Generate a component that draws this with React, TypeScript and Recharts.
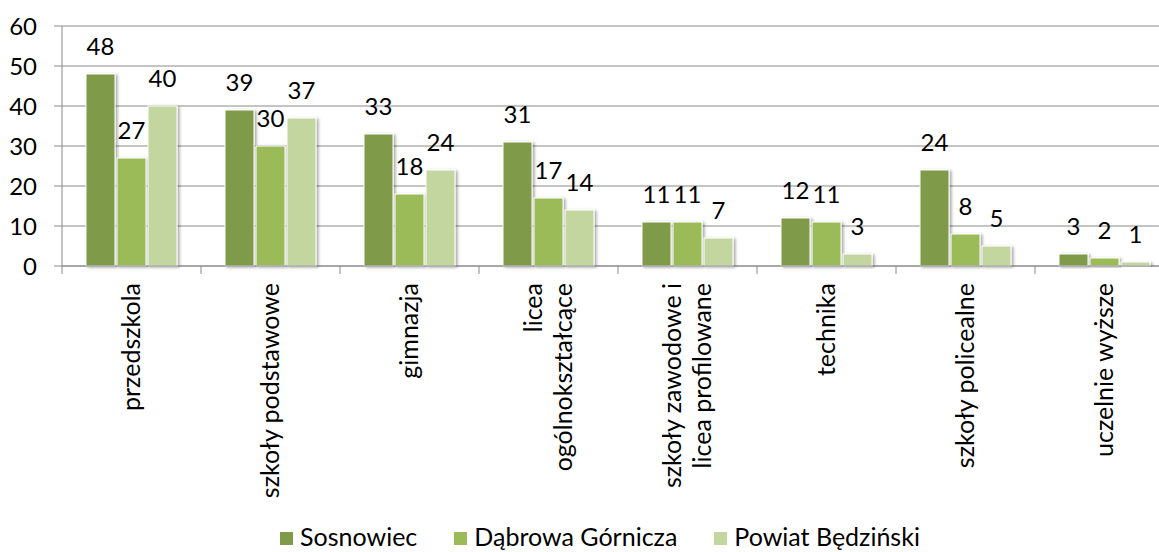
import React from 'react';
import { BarChart, Bar, XAxis, YAxis, CartesianGrid, Legend, LabelList } from 'recharts';

const categories = [
  'przedszkola',
  'szkoły podstawowe',
  'gimnazja',
  'licea\nogólnokształcące',
  'szkoły zawodowe i\nlicea profilowane',
  'technika',
  'szkoły policealne',
  'uczelnie wyższe',
];
const sosnowiec = [48, 39, 33, 31, 11, 12, 24, 3];
const dabrowa = [27, 30, 18, 17, 11, 11, 8, 2];
const powiat = [40, 37, 24, 14, 7, 3, 5, 1];
const yTicks = [0, 10, 20, 30, 40, 50, 60];
const seriesNames = ['Sosnowiec', 'Dąbrowa Górnicza', 'Powiat Będziński'];
const seriesKeys = ['s', 'd', 'p'];
const colors = ['#7F9A48', '#9BBB59', '#C4D69F'];

const data = categories.map((c, i) => ({ category: c, s: sosnowiec[i], d: dabrowa[i], p: powiat[i] }));

const FONT = 'Lato, "Open Sans", sans-serif';
const AXIS = '#8A8A8A';

const CategoryTick = (props: any) => {
  const { x, y, payload, width, visibleTicksCount } = props;
  const band = width && visibleTicksCount ? width / visibleTicksCount : 139;
  const axisY = y - 17;
  const lines = String(payload.value).split('\n');
  const lh = 30;
  const startOff = -((lines.length - 1) * lh) / 2;
  return (
    <g>
      <line x1={x - band / 2} y1={axisY} x2={x - band / 2} y2={axisY + 8} stroke={AXIS} strokeWidth={1} />
      <g transform={`translate(${x},${y}) rotate(-90)`}>
        {lines.map((l, i) => (
          <text
            key={i}
            x={0}
            y={startOff + i * lh}
            dy="0.35em"
            textAnchor="end"
            fontFamily={FONT}
            fontSize={25}
            fill="#000"
          >
            {l}
          </text>
        ))}
      </g>
    </g>
  );
};

const ShadowBar = (props: any) => {
  const { x, y, width, height, fill } = props;
  if (height <= 0) return null;
  return (
    <g>
      <rect x={x} y={y} width={width} height={height} fill={fill} stroke="#FFFFFF" strokeWidth={1} filter="url(#barShadow)" />
    </g>
  );
};

const LegendContent = (props: any) => {
  const payload = [...(props.payload || [])].sort(
    (a: any, b: any) => seriesNames.indexOf(a.value) - seriesNames.indexOf(b.value)
  );
  return (
    <div style={{ display: 'flex', justifyContent: 'center', alignItems: 'flex-end', fontFamily: FONT, fontSize: 25, color: '#000' }}>
      {payload.map((e: any, i: number) => (
        <div key={i} style={{ display: 'flex', alignItems: 'flex-end', marginRight: i < payload.length - 1 ? 37 : 0 }}>
          <span style={{ display: 'inline-block', width: 13, height: 13, background: e.color, marginRight: 7, marginBottom: 4 }} />
          <span style={{ lineHeight: '25px' }}>{e.value}</span>
        </div>
      ))}
    </div>
  );
};

export default function App() {
  return (
    <div style={{ position: 'fixed', left: 0, top: 0, width: 1159, height: 552, overflow: 'hidden', background: '#fff' }}>
      <BarChart
        width={1200}
        height={552}
        data={data}
        margin={{ top: 26, right: 26, left: 0, bottom: 0 }}
        barSize={29}
        barGap={2}
      >
        <defs>
          <filter id="barShadow" x="-20%" y="-20%" width="160%" height="140%">
            <feDropShadow dx="2" dy="1" stdDeviation="1.6" floodColor="#000" floodOpacity="0.35" />
          </filter>
        </defs>
        <CartesianGrid vertical={false} stroke={AXIS} strokeWidth={1} />
        <XAxis
          dataKey="category"
          interval={0}
          height={246}
          axisLine={{ stroke: AXIS }}
          tickLine={false}
          tickSize={8}
          tickMargin={9}
          tick={<CategoryTick />}
        />
        <YAxis
          width={62}
          domain={[0, 60]}
          ticks={yTicks}
          interval={0}
          axisLine={{ stroke: AXIS }}
          tickLine={{ stroke: AXIS }}
          tickSize={8}
          tickMargin={17}
          tick={{ fontFamily: FONT, fontSize: 24, fill: '#000' }}
        />
        <Legend
          verticalAlign="bottom"
          height={40}
          content={<LegendContent />}
          wrapperStyle={{ top: 524, left: 0, width: 1200 }}
        />
        {seriesKeys.map((k, i) => (
          <Bar key={k} dataKey={k} name={seriesNames[i]} fill={colors[i]} isAnimationActive={false} shape={<ShadowBar />}>
            <LabelList dataKey={k} position="top" offset={19} fill="#000" fontFamily={FONT} fontSize={24} />
          </Bar>
        ))}
      </BarChart>
    </div>
  );
}
